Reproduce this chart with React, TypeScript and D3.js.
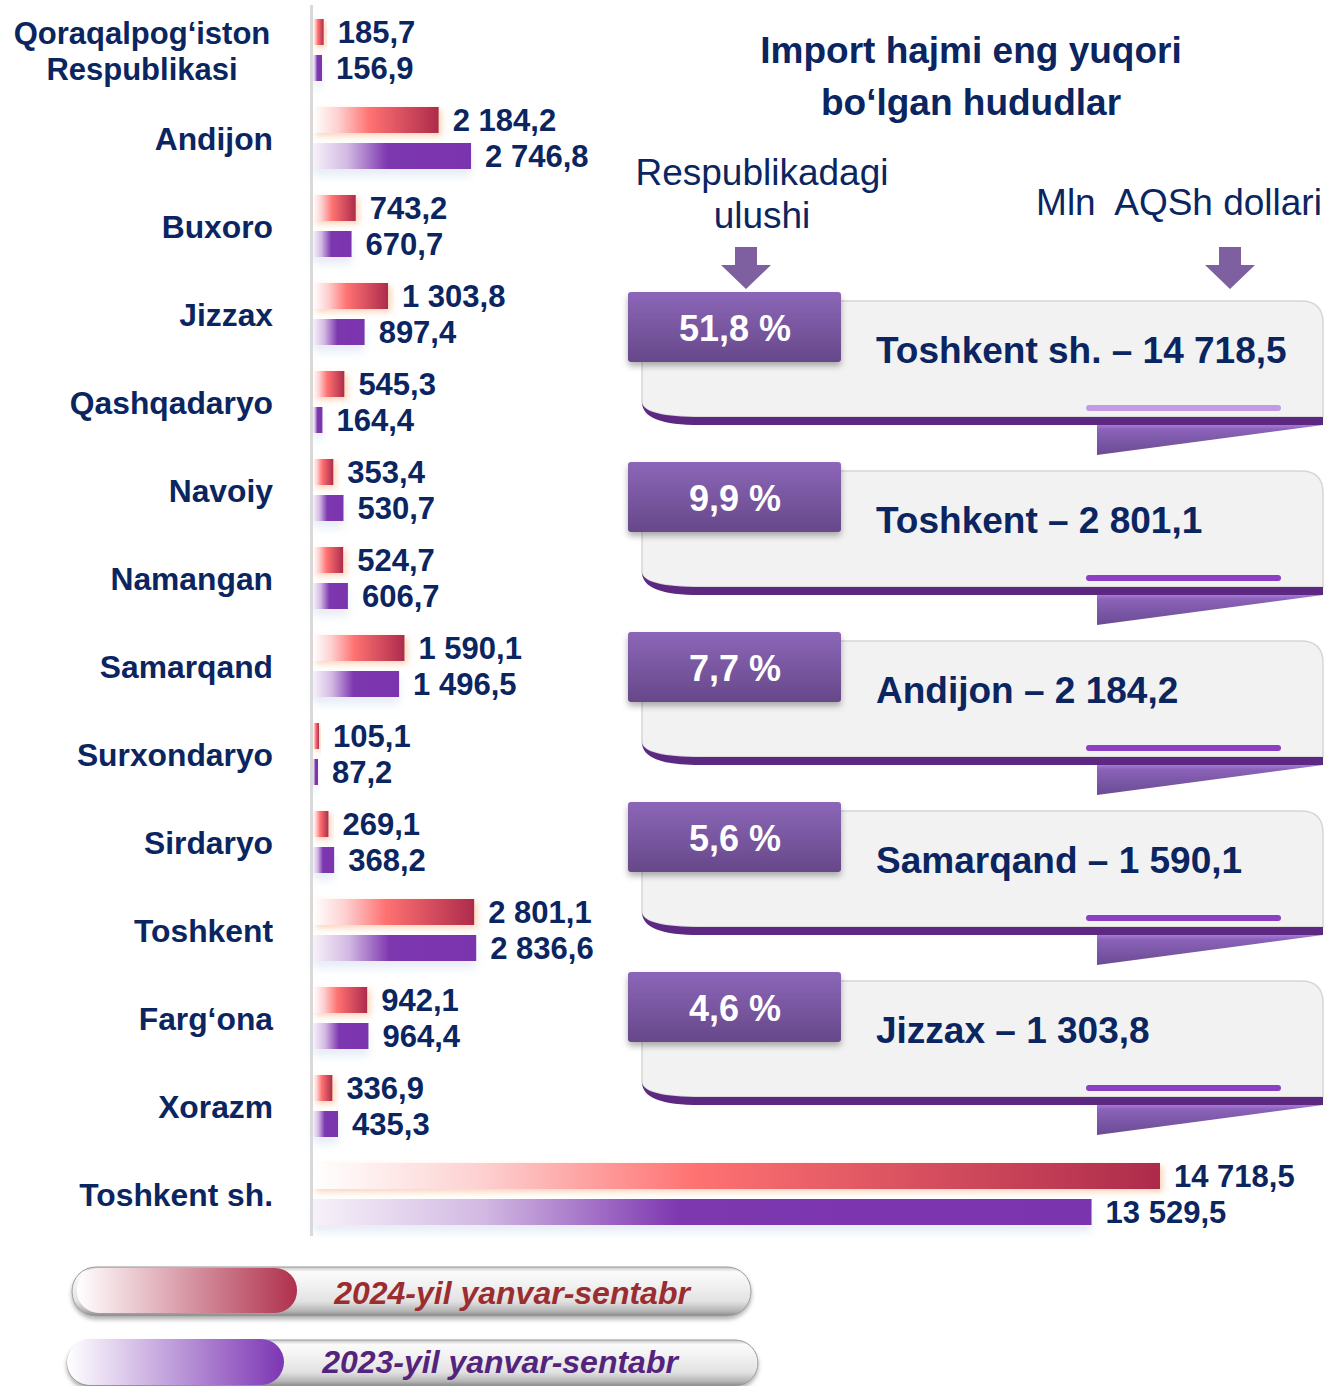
import React from 'react';
import * as d3 from 'd3';

const categories = [
  "Qoraqalpog‘iston Respublikasi", "Andijon", "Buxoro", "Jizzax", "Qashqadaryo",
  "Navoiy", "Namangan", "Samarqand", "Surxondaryo", "Sirdaryo", "Toshkent",
  "Farg‘ona", "Xorazm", "Toshkent sh.",
];
const values2024 = [185.7, 2184.2, 743.2, 1303.8, 545.3, 353.4, 524.7, 1590.1, 105.1, 269.1, 2801.1, 942.1, 336.9, 14718.5];
const values2023 = [156.9, 2746.8, 670.7, 897.4, 164.4, 530.7, 606.7, 1496.5, 87.2, 368.2, 2836.6, 964.4, 435.3, 13529.5];
const seriesKeys = ["2024", "2023"];
const seriesNames = ["2024-yil yanvar-sentabr", "2023-yil yanvar-sentabr"];
const topRegions = ["Toshkent sh.", "Toshkent", "Andijon", "Samarqand", "Jizzax"];
const topShares = [51.8, 9.9, 7.7, 5.6, 4.6];
const titleLines = ["Import hajmi eng yuqori", "bo‘lgan hududlar"];
const shareLabel = ["Respublikadagi", "ulushi"];
const unitLabel = "Mln  AQSh dollari";

const NAVY = "#0b2560";
const FONT = "'Liberation Sans', Arial, sans-serif";

const loc = d3.formatLocale({ decimal: ",", thousands: " ", grouping: [3], currency: ["", ""] });
const fmt = loc.format(",.1f");

export default function App() {
  const W = 1326, H = 1386;
  const x = d3.scaleLinear().domain([0, 14718.5]).range([313, 1160]);
  const y = d3.scaleBand<string>().domain(categories).range([7, 7 + 88 * categories.length]).padding(0);
  const ys = d3.scaleBand<string>().domain(seriesKeys).range([12, 74]).paddingInner(0.278).paddingOuter(0);
  const series = [values2024, values2023];

  const cardTop = (i: number) => 292 + 170 * i;

  return (
    <svg width={W} height={H} style={{ position: 'absolute', left: 0, top: 0, display: 'block', background: '#fff' }} fontFamily={FONT}>
      <defs>
        <linearGradient id="gRed" x1="0" x2="1" y1="0" y2="0">
          <stop offset="0" stopColor="#ffffff" />
          <stop offset="0.2" stopColor="#fdd0d0" />
          <stop offset="0.45" stopColor="#ff7272" />
          <stop offset="1" stopColor="#ad2b4b" />
        </linearGradient>
        <linearGradient id="gPur" x1="0" x2="1" y1="0" y2="0">
          <stop offset="0" stopColor="#f7f2fa" />
          <stop offset="0.22" stopColor="#d2b8e2" />
          <stop offset="0.47" stopColor="#7d37b0" />
          <stop offset="1" stopColor="#7a35ae" />
        </linearGradient>
        <linearGradient id="gLegRed" x1="0" x2="1" y1="0" y2="0">
          <stop offset="0" stopColor="#ffffff" />
          <stop offset="1" stopColor="#b0304c" />
        </linearGradient>
        <linearGradient id="gLegPur" x1="0" x2="1" y1="0" y2="0">
          <stop offset="0" stopColor="#ffffff" />
          <stop offset="1" stopColor="#7c36b4" />
        </linearGradient>
        <linearGradient id="gTab" x1="0" x2="0" y1="0" y2="1">
          <stop offset="0" stopColor="#8c66b8" />
          <stop offset="1" stopColor="#664889" />
        </linearGradient>
        <linearGradient id="gFold" x1="0" x2="0" y1="0" y2="1">
          <stop offset="0" stopColor="#a878d8" />
          <stop offset="0.15" stopColor="#8a62b8" />
          <stop offset="1" stopColor="#6b4b94" />
        </linearGradient>
        <linearGradient id="gPill" x1="0" x2="0" y1="0" y2="1">
          <stop offset="0" stopColor="#c8c8c8" />
          <stop offset="0.1" stopColor="#fbfbfb" />
          <stop offset="0.35" stopColor="#f2f2f2" />
          <stop offset="0.7" stopColor="#e2e2e2" />
          <stop offset="0.9" stopColor="#b5b5b5" />
          <stop offset="1" stopColor="#888888" />
        </linearGradient>
        <filter id="shRed" x="-20%" y="-30%" width="150%" height="180%">
          <feDropShadow dx="3" dy="3" stdDeviation="3" floodColor="#f5a060" floodOpacity="0.45" />
        </filter>
        <filter id="shPur" x="-20%" y="-30%" width="150%" height="200%">
          <feDropShadow dx="0" dy="7" stdDeviation="4" floodColor="#c9d5ea" floodOpacity="0.45" />
        </filter>
        <filter id="shTab" x="-10%" y="-10%" width="120%" height="140%">
          <feDropShadow dx="0" dy="4" stdDeviation="3" floodColor="#000" floodOpacity="0.3" />
        </filter>
        <filter id="shPill" x="-5%" y="-20%" width="110%" height="150%">
          <feDropShadow dx="0" dy="3" stdDeviation="2" floodColor="#000" floodOpacity="0.3" />
        </filter>
      </defs>

      {/* axis line */}
      <rect x={310} y={5} width={3} height={1231} fill="#d9d9d9" />

      {/* bars */}
      {categories.map((c, i) => {
        const y0 = y(c)!;
        const yc = y0 + y.bandwidth() / 2;
        return (
          <g key={c}>
            {series.map((vals, s) => {
              const by = y0 + ys(seriesKeys[s])!;
              const bh = ys.bandwidth();
              const v = vals[i];
              return (
                <g key={s}>
                  <rect x={x(0)} y={by} width={x(v) - x(0)} height={bh}
                    fill={s === 0 ? "url(#gRed)" : "url(#gPur)"}
                    filter={s === 0 ? "url(#shRed)" : "url(#shPur)"} />
                  <text x={x(v) + 14} y={by + bh / 2 + 11} fontSize={31} fontWeight="bold" fill={NAVY}>{fmt(v)}</text>
                </g>
              );
            })}
            {c.includes("Respublikasi") ? (
              <text x={142} y={yc - 7} textAnchor="middle" fontSize={31} fontWeight="bold" fill={NAVY}>
                <tspan x={142} dy={0}>{c.split(" ")[0]}</tspan>
                <tspan x={142} dy={36}>{c.split(" ")[1]}</tspan>
              </text>
            ) : (
              <text x={273} y={yc + 11} textAnchor="end" fontSize={31.8} fontWeight="bold" fill={NAVY}>{c}</text>
            )}
          </g>
        );
      })}

      {/* right title */}
      {titleLines.map((t, i) => (
        <text key={t} x={971} y={63 + i * 52} textAnchor="middle" fontSize={37} fontWeight="bold" fill={NAVY}>{t}</text>
      ))}
      {shareLabel.map((t, i) => (
        <text key={t} x={762} y={185 + i * 43} textAnchor="middle" fontSize={37} fill={NAVY}>{t}</text>
      ))}
      <text x={1179} y={215} textAnchor="middle" fontSize={37} fill={NAVY} style={{ whiteSpace: 'pre' }}>{unitLabel}</text>

      {/* arrows */}
      {[746, 1230].map((cx) => (
        <path key={cx} d={`M${cx - 11},247 L${cx + 11},247 L${cx + 11},265 L${cx + 25},265 L${cx},289 L${cx - 25},265 L${cx - 11},265 Z`} fill="#7e60a0" />
      ))}

      {/* cards */}
      {topRegions.map((name, i) => {
        const T = cardTop(i);
        const v = values2024[categories.indexOf(name)];
        const L = 642, R = 1323;
        return (
          <g key={name}>
            <path d={`M${L},${T + 9} L${R - 22},${T + 9} Q${R},${T + 9} ${R},${T + 31} L${R},${T + 125} L${L + 58},${T + 125} C${L + 22},${T + 125} ${L},${T + 120} ${L},${T + 110} Z`}
              fill="#f2f2f2" stroke="#d6d6d6" strokeWidth={1.5} />
            <path d={`M${L},${T + 110} C${L},${T + 120} ${L + 22},${T + 125} ${L + 58},${T + 125} L${R},${T + 125} L${R},${T + 133} L${L + 58},${T + 133} C${L + 20},${T + 133} ${L},${T + 126} ${L},${T + 110} Z`}
              fill="#5c2882" />
            <path d={`M1097,${T + 133} L${R},${T + 133} L1097,${T + 163} Z`} fill="url(#gFold)" />
            <rect x={1086} y={T + 113} width={195} height={6} rx={3} fill={i === 0 ? "#c39be3" : "#8a3fc4"} />
            <rect x={628} y={T} width={213} height={70} rx={3} fill="url(#gTab)" filter="url(#shTab)" />
            <text x={735} y={T + 49} textAnchor="middle" fontSize={36} fontWeight="bold" fill="#ffffff">{fmt(topShares[i]) + " %"}</text>
            <text x={876} y={T + 71} fontSize={37} fontWeight="bold" fill={NAVY}>{`${name} – ${fmt(v)}`}</text>
          </g>
        );
      })}

      {/* legend */}
      <g>
        <rect x={72} y={1267} width={679} height={49} rx={24} fill="url(#gPill)" stroke="#9a9a9a" strokeWidth={1} filter="url(#shPill)" />
        <rect x={77} y={1268} width={220} height={45} rx={22} fill="url(#gLegRed)" />
        <text x={512} y={1304} textAnchor="middle" fontSize={32} fontWeight="bold" fontStyle="italic" fill="#9b2d30">{seriesNames[0]}</text>

        <rect x={67} y={1340} width={691} height={46} rx={23} fill="url(#gPill)" stroke="#9a9a9a" strokeWidth={1} filter="url(#shPill)" />
        <rect x={67} y={1339} width={217} height={46} rx={23} fill="url(#gLegPur)" />
        <text x={500} y={1373} textAnchor="middle" fontSize={32} fontWeight="bold" fontStyle="italic" fill="#54247c">{seriesNames[1]}</text>
      </g>
    </svg>
  );
}
